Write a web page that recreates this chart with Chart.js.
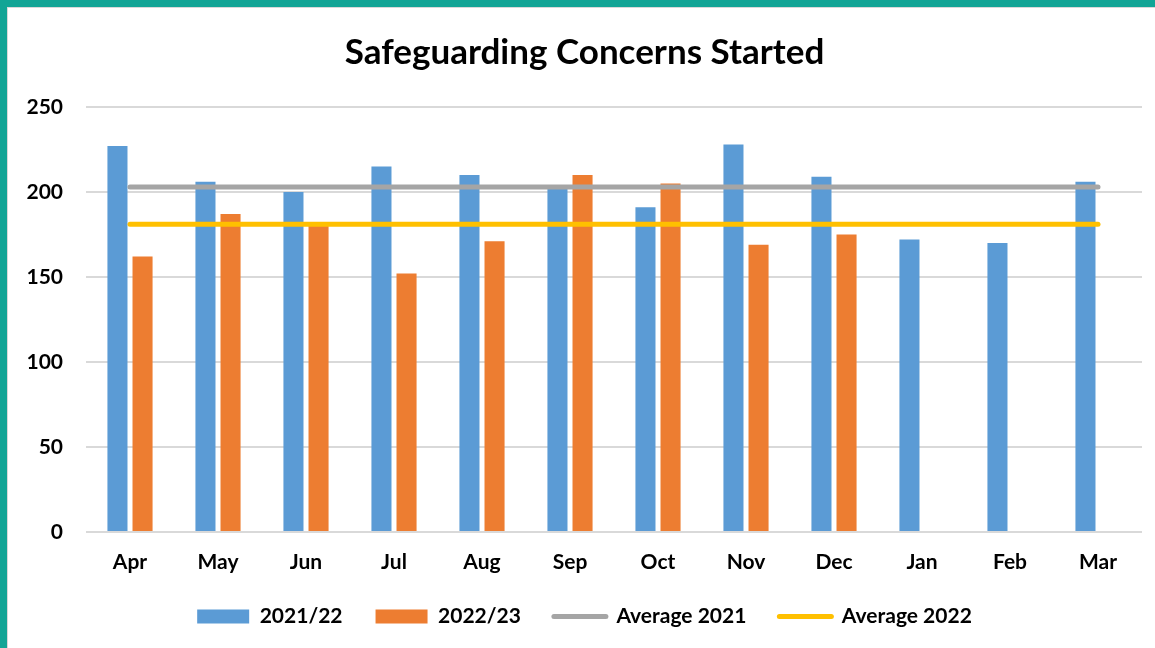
<!DOCTYPE html>
<html>
<head>
<meta charset="utf-8">
<script src="https://cdn.jsdelivr.net/npm/chart.js@4"></script>
<style>
  html, body { margin: 0; padding: 0; background: #fff; overflow: hidden; }
  #frame {
    position: absolute; left: 0; top: 0; width: 1155px; height: 660px;
    box-sizing: border-box;
    border-top: 7px solid #12a596; border-left: 7px solid #12a596;
  }
  #inner {
    position: absolute; left: 0; top: 0; right: 0; bottom: 0;
    border-top: 1px solid #d9d9d9; border-left: 1px solid #d9d9d9;
  }
  #box { position: absolute; left: 0; top: 0; width: 1147px; height: 629px; }
</style>
</head>
<body>
<div id="frame"><div id="inner"><div id="box"><canvas id="chart"></canvas></div></div></div>
<script>
const months = ['Apr', 'May', 'Jun', 'Jul', 'Aug', 'Sep', 'Oct', 'Nov', 'Dec', 'Jan', 'Feb', 'Mar'];
const year2122 = [227, 206, 200, 215, 210, 203, 191, 228, 209, 172, 170, 206];
const year2223 = [162, 187, 180, 152, 171, 210, 205, 169, 175, null, null, null];
const avg2021 = 203;
const avg2022 = 181;
const yTicks = [0, 50, 100, 150, 200, 250];

const blue = '#5b9bd5';
const orange = '#ed7d31';
const grey = '#a5a5a5';
const gold = '#ffc000';
const fontFamily = 'Lato, "Open Sans", sans-serif';

function flat(v) {
    return months.map(() => v);
}

document.addEventListener('DOMContentLoaded', () => {
    LoadChart();
});

function LoadChart() {
    new Chart(document.getElementById('chart'), {
        type: 'bar',
        data: {
            labels: months,
            datasets: [
                {
                    label: '2021/22',
                    data: year2122,
                    backgroundColor: blue,
                    borderWidth: 0,
                    order: 1,
                    barPercentage: 0.8,
                    categoryPercentage: 0.57
                },
                {
                    label: '2022/23',
                    data: year2223,
                    backgroundColor: orange,
                    borderWidth: 0,
                    order: 1,
                    barPercentage: 0.8,
                    categoryPercentage: 0.57
                },
                {
                    type: 'line',
                    label: 'Average 2021',
                    data: flat(avg2021),
                    borderColor: grey,
                    backgroundColor: grey,
                    borderWidth: 5,
                    borderCapStyle: 'round',
                    pointRadius: 0,
                    order: 0
                },
                {
                    type: 'line',
                    label: 'Average 2022',
                    data: flat(avg2022),
                    borderColor: gold,
                    backgroundColor: gold,
                    borderWidth: 5,
                    borderCapStyle: 'round',
                    pointRadius: 0,
                    order: 0
                }
            ]
        },
        options: {
            responsive: true,
            maintainAspectRatio: false,
            animation: false,
            layout: { padding: { left: 19, right: 13, top: 0, bottom: 0 } },
            plugins: {
                tooltip: { enabled: false },
                title: {
                    display: true,
                    text: 'Safeguarding Concerns Started',
                    color: '#000',
                    font: { family: fontFamily, size: 35, weight: 'bold' },
                    padding: { top: 24, bottom: 33 }
                },
                legend: {
                    position: 'bottom',
                    labels: {
                        color: '#000',
                        font: { family: fontFamily, size: 21, weight: 'bold' },
                        usePointStyle: true,
                        pointStyleWidth: 52,
                        boxHeight: 14,
                        padding: 33,
                        sort: (a, b) => a.datasetIndex - b.datasetIndex,
                        generateLabels: (chart) => {
                            const items = Chart.defaults.plugins.legend.labels.generateLabels(chart);
                            items.forEach(it => {
                                const ds = chart.data.datasets[it.datasetIndex];
                                if (ds.type === 'line') {
                                    it.pointStyle = 'line';
                                    it.strokeStyle = ds.borderColor;
                                    it.lineWidth = 5;
                                    it.lineCap = 'round';
                                } else {
                                    it.pointStyle = 'rect';
                                    it.lineWidth = 0;
                                }
                            });
                            return items;
                        }
                    }
                }
            },
            scales: {
                x: {
                    grid: { display: false, drawTicks: false },
                    border: { display: false },
                    afterFit: (axis) => { axis.height = 41; },
                    ticks: {
                        color: '#000',
                        padding: 18,
                        font: { family: fontFamily, size: 21, weight: 'bold' }
                    }
                },
                y: {
                    min: 0,
                    max: 250,
                    afterBuildTicks: (axis) => {
                        axis.ticks = yTicks.map(v => ({ value: v }));
                    },
                    afterFit: (axis) => { axis.width = 59; },
                    grid: { color: '#d9d9d9', lineWidth: 2, drawTicks: false },
                    border: { display: false },
                    ticks: {
                        color: '#000',
                        padding: 23,
                        font: { family: fontFamily, size: 21, weight: 'bold' }
                    }
                }
            }
        }
    });
}
</script>
</body>
</html>
